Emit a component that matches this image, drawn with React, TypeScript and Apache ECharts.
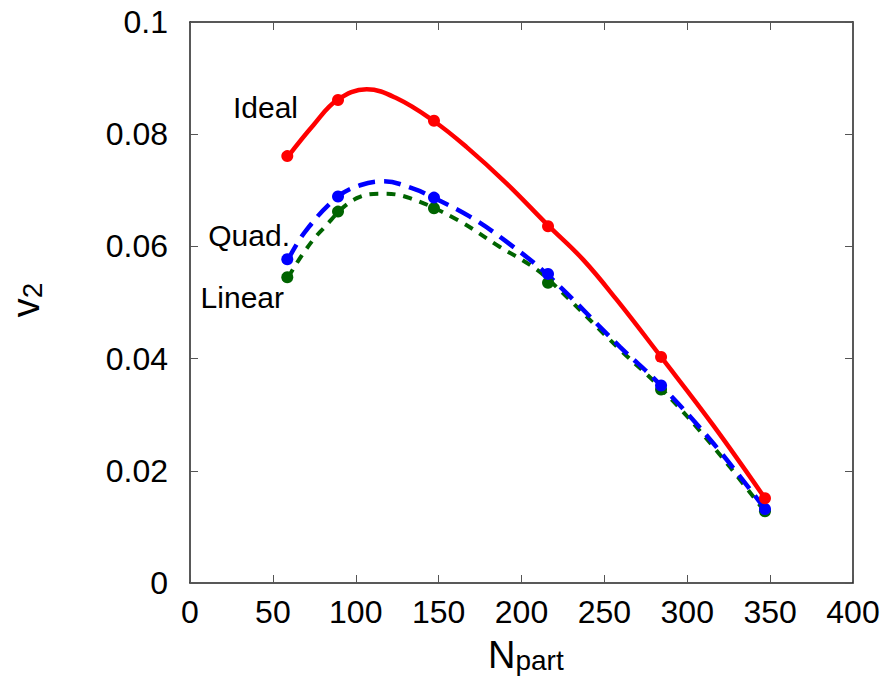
import React, { useEffect, useRef } from "react";
import * as echarts from "echarts";

// Data points (N_part, v2)
const npart = [58.7, 89.3, 147.2, 216.0, 284.2, 346.9];
const idealPts = [0.0761, 0.0861, 0.0824, 0.0636, 0.0403, 0.0151];
const quadPts = [0.0577, 0.0689, 0.0687, 0.0551, 0.0352, 0.0132];
const linearPts = [0.0545, 0.0662, 0.0668, 0.0535, 0.0345, 0.0128];

// Fitted curves
const idealCurveX = [59.3, 74.4, 88.9, 106.6, 124.7, 146.8, 166.9, 191.1, 216.2, 237.3, 257.4, 284.2, 315.7, 346.9];
const idealCurveY = [0.0761, 0.0816, 0.0861, 0.088, 0.0864, 0.0824, 0.0777, 0.0712, 0.0637, 0.0576, 0.0505, 0.0403, 0.0281, 0.0151];
const quadCurveX = [59.3, 69.4, 88.9, 102.6, 116.6, 134.7, 146.8, 168.9, 191.1, 215.8, 259.4, 284.2, 315.7, 346.9];
const quadCurveY = [0.0577, 0.0626, 0.0688, 0.0709, 0.0716, 0.0703, 0.0687, 0.0653, 0.0608, 0.0549, 0.0421, 0.0352, 0.0249, 0.0132];
const linearCurveX = [59.3, 68.4, 79.5, 100.6, 116.6, 132.7, 160.9, 187.0, 205.1, 216.0, 259.4, 284.2, 315.7, 346.9];
const linearCurveY = [0.0545, 0.0588, 0.0629, 0.0686, 0.0694, 0.0686, 0.0648, 0.0599, 0.0567, 0.0542, 0.0416, 0.0347, 0.0243, 0.0127];

const xTicks = [0, 50, 100, 150, 200, 250, 300, 350, 400];
const yTicks = [0, 0.02, 0.04, 0.06, 0.08, 0.1];

const FONT = "'Liberation Sans', Arial, Helvetica, sans-serif";
const RED = "#ff0000";
const BLUE = "#0000ff";
const GREEN = "#006400";

const zip = (xs: number[], ys: number[]) => xs.map((x, i) => [x, ys[i]]);

export default function App() {
  const ref = useRef<HTMLDivElement>(null);
  useEffect(() => {
    document.body.style.margin = "0";
    const chart = echarts.init(ref.current!, undefined, { renderer: "svg" });
    const axisLine = { show: true, onZero: false, lineStyle: { color: "#222", width: 1.5 } };
    const tick = { show: true, inside: true, length: 8, lineStyle: { color: "#555", width: 1 } };
    const xMin = xTicks[0], xMax = xTicks[xTicks.length - 1];
    const yMin = yTicks[0], yMax = yTicks[yTicks.length - 1];
    const option: any = {
      animation: false,
      backgroundColor: "#fff",
      grid: { left: 190, right: 37, top: 22, bottom: 114 },
      xAxis: [
        {
          type: "value", min: xMin, max: xMax, interval: 50,
          axisLine, axisTick: tick, splitLine: { show: false },
          axisLabel: { color: "#000", fontSize: 32, fontFamily: FONT, margin: 13 },
        },
        {
          type: "value", position: "top", min: xMin, max: xMax, interval: 50,
          axisLine, axisTick: tick, splitLine: { show: false }, axisLabel: { show: false },
        },
      ],
      yAxis: [
        {
          type: "value", min: yMin, max: yMax, interval: 0.02,
          axisLine, axisTick: tick, splitLine: { show: false },
          axisLabel: {
            color: "#000", fontSize: 32, fontFamily: FONT, margin: 22,
            formatter: (v: number) => String(+v.toFixed(2)),
          },
        },
        {
          type: "value", position: "right", min: yMin, max: yMax, interval: 0.02,
          axisLine, axisTick: tick, splitLine: { show: false }, axisLabel: { show: false },
        },
      ],
      series: [
        {
          type: "line", name: "Linear fit", data: zip(linearCurveX, linearCurveY), smooth: 0.4,
          symbol: "none", lineStyle: { color: GREEN, width: 4, type: [9, 8] }, z: 2,
        },
        {
          type: "line", name: "Quad fit", data: zip(quadCurveX, quadCurveY), smooth: 0.4,
          symbol: "none", lineStyle: { color: BLUE, width: 4.5, type: [17, 9] }, z: 3,
        },
        {
          type: "line", name: "Ideal fit", data: zip(idealCurveX, idealCurveY), smooth: 0.4,
          symbol: "none", lineStyle: { color: RED, width: 4.5 }, z: 4,
        },
        {
          type: "scatter", name: "Linear", data: zip(npart, linearPts), symbol: "circle",
          symbolSize: 12, itemStyle: { color: GREEN, opacity: 1 }, z: 5,
        },
        {
          type: "scatter", name: "Quad.", data: zip(npart, quadPts), symbol: "circle",
          symbolSize: 12, itemStyle: { color: BLUE, opacity: 1 }, z: 6,
        },
        {
          type: "scatter", name: "Ideal", data: zip(npart, idealPts), symbol: "circle",
          symbolSize: 12, itemStyle: { color: RED, opacity: 1 }, z: 7,
        },
      ],
      graphic: [
        { type: "text", right: 890 - 298, top: 92, style: { text: "Ideal", font: `30px ${FONT}`, fill: "#000" } },
        { type: "text", right: 890 - 290, top: 220, style: { text: "Quad.", font: `30px ${FONT}`, fill: "#000" } },
        { type: "text", right: 890 - 284, top: 282, style: { text: "Linear", font: `30px ${FONT}`, fill: "#000" } },
        {
          type: "text", left: 488, top: 636,
          style: {
            text: "{n|N}{s|part}",
            rich: {
              n: { fontSize: 38, fontFamily: FONT, fill: "#000", verticalAlign: "bottom" },
              s: { fontSize: 28, fontFamily: FONT, fill: "#000", verticalAlign: "bottom", lineHeight: 20 },
            },
          },
        },
        {
          type: "text", x: 46, y: 300, rotation: Math.PI / 2,
          style: {
            text: "{v|v}{s|2}",
            align: "center", verticalAlign: "bottom",
            rich: {
              v: { fontSize: 38, fontFamily: FONT, fill: "#000" },
              s: { fontSize: 28, fontFamily: FONT, fill: "#000", padding: [12, 0, 0, 0] },
            },
          },
        },
      ],
    };
    chart.setOption(option);
    return () => chart.dispose();
  }, []);
  return <div ref={ref} style={{ width: 890, height: 697 }} />;
}
